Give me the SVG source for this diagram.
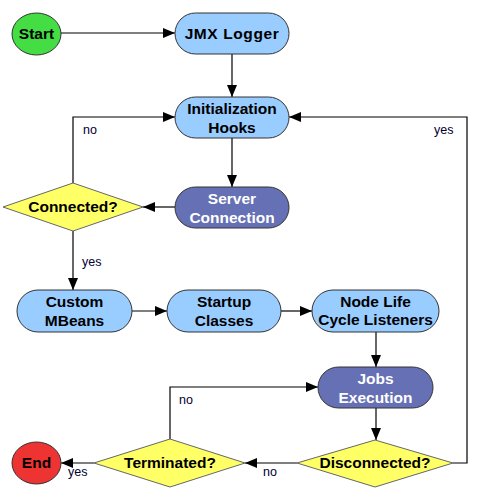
<svg xmlns="http://www.w3.org/2000/svg" width="482" height="500" viewBox="0 0 482 500">
<defs>
<marker id="ah" viewBox="0 0 12 10" refX="12" refY="5" markerWidth="12" markerHeight="10" markerUnits="userSpaceOnUse" orient="auto">
<path d="M0,0 L12,5 L0,10 z" fill="#000"/>
</marker>
</defs>
<style>
.t{font-family:"Liberation Sans",Arial,sans-serif;font-size:15.5px;font-weight:bold;text-anchor:middle;fill:#000}
.w{fill:#fff}
.lb{font-family:"Liberation Sans",Arial,sans-serif;font-size:12.5px;fill:#000033}
.lt{fill:#99ccff;stroke:#333;stroke-width:1}
.dk{fill:#6670b4;stroke:#333;stroke-width:1}
.dm{fill:#ffff66;stroke:#666;stroke-width:1}
.c{fill:none;stroke:#000;stroke-width:1.2;marker-end:url(#ah)}
</style>
<rect width="482" height="500" fill="#fff"/>
<g id="connectors">
<path class="c" d="M61,33 H175"/>
<path class="c" d="M232,54 V97"/>
<path class="c" d="M232,138 V187"/>
<path class="c" d="M175,207 H143"/>
<path class="c" d="M73,183 V117 H175"/>
<path class="c" d="M453,463 H467 V117 H289"/>
<path class="c" d="M73,231 V290"/>
<path class="c" d="M132,311 H167"/>
<path class="c" d="M281,311 H312"/>
<path class="c" d="M376,332 V367"/>
<path class="c" d="M376,408 V440"/>
<path class="c" d="M170,439 V387 H318"/>
<path class="c" d="M297,463 H245"/>
<path class="c" d="M94,463 H61"/>
<text class="lb" x="83" y="134">no</text>
<text class="lb" x="434" y="134">yes</text>
<text class="lb" x="82" y="266">yes</text>
<text class="lb" x="179" y="404">no</text>
<text class="lb" x="263" y="476">no</text>
<text class="lb" x="68" y="476">yes</text>
</g>
<g id="start"><ellipse cx="36.5" cy="34" rx="24.5" ry="21" fill="#44dd44" stroke="#333"/><text class="t" x="36.5" y="39">Start</text></g>
<g id="jmx"><rect class="lt" x="175" y="13" width="114" height="41" rx="20.5"/><text class="t" x="232" y="39" letter-spacing="0.6">JMX Logger</text></g>
<g id="init"><rect class="lt" x="175" y="97" width="114" height="41" rx="20.5"/><text class="t" x="232" y="114">Initialization</text><text class="t" x="232" y="133">Hooks</text></g>
<g id="server"><rect class="dk" x="175" y="187" width="114" height="41" rx="20.5"/><text class="t w" x="232" y="204">Server</text><text class="t w" x="232" y="223">Connection</text></g>
<g id="connected"><polygon class="dm" points="3,207 73,183 143,207 73,231"/><text class="t" x="73" y="212">Connected?</text></g>
<g id="mbeans"><rect class="lt" x="17" y="290" width="115" height="42" rx="21"/><text class="t" x="74.5" y="307">Custom</text><text class="t" x="74.5" y="326">MBeans</text></g>
<g id="startup"><rect class="lt" x="167" y="290" width="114" height="42" rx="21"/><text class="t" x="224" y="307">Startup</text><text class="t" x="224" y="326">Classes</text></g>
<g id="nodelife"><rect class="lt" x="312" y="290" width="127" height="42" rx="21"/><text class="t" x="375.5" y="307">Node Life</text><text class="t" x="375.5" y="325">Cycle Listeners</text></g>
<g id="jobs"><rect class="dk" x="318" y="367" width="115" height="41" rx="20.5"/><text class="t w" x="375.5" y="384">Jobs</text><text class="t w" x="375.5" y="403">Execution</text></g>
<g id="disconnected"><polygon class="dm" points="297,463 375,440 453,463 375,487"/><text class="t" x="375" y="468">Disconnected?</text></g>
<g id="terminated"><polygon class="dm" points="94,463 170,439 245,463 170,487"/><text class="t" x="170" y="468">Terminated?</text></g>
<g id="end"><ellipse cx="36.5" cy="463" rx="24.5" ry="21" fill="#ee3333" stroke="#333"/><text class="t" x="36.5" y="468">End</text></g>
</svg>
